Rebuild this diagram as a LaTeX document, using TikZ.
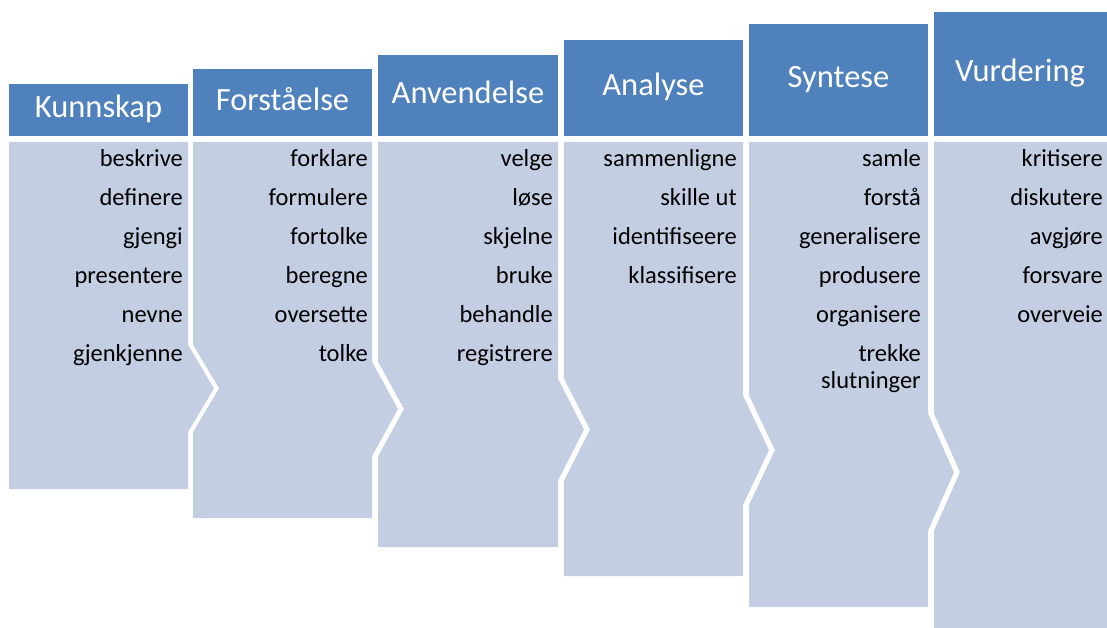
\documentclass[tikz,border=0pt]{standalone}
\usepackage{fontspec}
\setmainfont{Carlito}
\definecolor{headblue}{RGB}{79,129,189}
\definecolor{bodyblue}{RGB}{196,206,227}
\begin{document}
\begin{tikzpicture}[x=1pt,y=-1pt,
  header/.style={fill=headblue},
  body/.style={fill=bodyblue},
  htext/.style={text=white,font=\fontsize{32.5}{39}\selectfont,anchor=base,inner sep=0pt},
  item/.style={text=black,font=\fontsize{24.5}{29}\selectfont,anchor=base east,inner sep=0pt}]
\useasboundingbox (0,0) rectangle (1107,628);
\clip (0,0) rectangle (1107,628);

% column bodies: each one points into the next with a chevron
\fill[body] (9,142) -- (188,142) -- (188,344.7) -- (214,388.4) -- (188,432.1)
  -- (188,489) -- (9,489) -- cycle;
\fill[body] (193,142) -- (372,142) -- (372,361.6) -- (398,409) -- (372,456.4)
  -- (372,518) -- (193,518) -- (193,432.1) -- (219,388.4) -- (193,344.7) -- cycle;
\fill[body] (378,142) -- (558,142) -- (558,378.6) -- (584,429.6) -- (558,480.6)
  -- (558,547) -- (378,547) -- (378,456.4) -- (404,409) -- (378,361.6) -- cycle;
\fill[body] (564,142) -- (743,142) -- (743,395.4) -- (769,450.1) -- (743,504.8)
  -- (743,576) -- (564,576) -- (564,480.6) -- (590,429.6) -- (564,378.6) -- cycle;
\fill[body] (749,142) -- (928,142) -- (928,413.6) -- (954,472.2) -- (928,530.8)
  -- (928,607) -- (749,607) -- (749,504.8) -- (775,450.1) -- (749,395.4) -- cycle;
\fill[body] (934,142) -- (1112,142) -- (1112,640) -- (934,640) -- (934,530.8)
  -- (960,472.2) -- (934,413.6) -- cycle;

% headers, rising step by step
\fill[header] (9,84) rectangle (188,136);
\fill[header] (193,69) rectangle (372,136);
\fill[header] (378,55) rectangle (558,136);
\fill[header] (564,40) rectangle (743,136);
\fill[header] (749,24) rectangle (928,136);
\fill[header] (934,12) rectangle (1112,136);

\node[htext] (h1) at (98.5,118) {Kunnskap};
\node[htext] (h2) at (282.5,111) {Forståelse};
\node[htext] (h3) at (468,103.5) {Anvendelse};
\node[htext] (h4) at (653.5,95.5) {Analyse};
\node[htext] (h5) at (838.5,88) {Syntese};
\node[htext] (h6) at (1020,82) {Vurdering};

% verbs in each column
\foreach \w [count=\k] in {beskrive,definere,gjengi,presentere,nevne,gjenkjenne}
  \node[item] (a\k) at (183,{166.5+39*(\k-1)}) {\w};
\foreach \w [count=\k] in {forklare,formulere,fortolke,beregne,oversette,tolke}
  \node[item] (b\k) at (368,{166.5+39*(\k-1)}) {\w};
\foreach \w [count=\k] in {velge,løse,skjelne,bruke,behandle,registrere}
  \node[item] (c\k) at (553,{166.5+39*(\k-1)}) {\w};
\foreach \w [count=\k] in {sammenligne,skille ut,identifiseere,klassifisere}
  \node[item] (d\k) at (737,{166.5+39*(\k-1)}) {\w};
\foreach \w [count=\k] in {samle,forstå,generalisere,produsere,organisere,trekke}
  \node[item] (e\k) at (921,{166.5+39*(\k-1)}) {\w};
\node[item] (e7) at (921,388) {slutninger};
\foreach \w [count=\k] in {kritisere,diskutere,avgjøre,forsvare,overveie}
  \node[item] (f\k) at (1103,{166.5+39*(\k-1)}) {\w};
\end{tikzpicture}
\end{document}
